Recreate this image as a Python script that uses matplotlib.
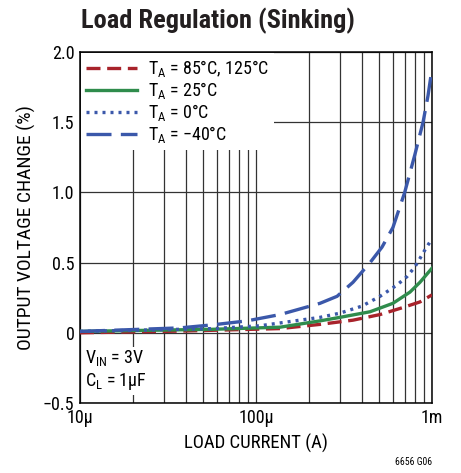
import matplotlib
matplotlib.use('Agg')
import matplotlib.pyplot as plt
from matplotlib.ticker import FixedLocator, NullFormatter

FONT = 'Roboto Condensed'
plt.rcParams['font.family'] = [FONT, 'Liberation Sans Narrow', 'DejaVu Sans']
plt.rcParams['mathtext.fontset'] = 'custom'
plt.rcParams['mathtext.rm'] = FONT

# load current (A) and output voltage change (%)
i_m40 = [10e-6, 37e-6, 57e-6, 89e-6, 137e-6, 231e-6, 289e-6, 356e-6, 445e-6,
         520e-6, 600e-6, 700e-6, 800e-6, 890e-6, 950e-6, 1e-3]
v_m40 = [0.01, 0.035, 0.057, 0.085, 0.13, 0.21, 0.26, 0.36, 0.50,
         0.61, 0.75, 1.00, 1.27, 1.50, 1.69, 1.88]

i_0 = [10e-6, 57e-6, 105e-6, 156e-6, 231e-6, 300e-6, 400e-6, 507e-6, 632e-6,
       721e-6, 800e-6, 855e-6, 912e-6, 1e-3]
v_0 = [0.01, 0.03, 0.05, 0.08, 0.11, 0.14, 0.19, 0.26, 0.34,
       0.40, 0.47, 0.53, 0.59, 0.67]

i_25 = [10e-6, 57e-6, 137e-6, 231e-6, 300e-6, 445e-6, 600e-6, 750e-6, 855e-6, 1e-3]
v_25 = [0.01, 0.025, 0.04, 0.085, 0.11, 0.15, 0.21, 0.29, 0.36, 0.46]

i_85 = [10e-6, 37e-6, 137e-6, 231e-6, 356e-6, 507e-6, 684e-6, 855e-6, 1e-3]
v_85 = [0.0, 0.012, 0.03, 0.06, 0.09, 0.13, 0.18, 0.22, 0.27]

x_ticks = [10e-6, 100e-6, 1e-3]
x_labels = ['10µ', '100µ', '1m']
y_ticks = [-0.5, 0, 0.5, 1.0, 1.5, 2.0]
y_labels = ['−0.5', '0', '0.5', '1.0', '1.5', '2.0']

fig = plt.figure(figsize=(4.61, 4.73), dpi=100)
ax = fig.add_axes([0.1735, 0.148, 0.7635, 0.742])

ax.plot(i_85, v_85, color='#a8232b', lw=2.4, ls=(0, (4.2, 2.0)), label=r'T$_\mathregular{A}$ = 85°C, 125°C', zorder=3)
ax.plot(i_25, v_25, color='#2f8c4c', lw=2.4, ls='-', label=r'T$_\mathregular{A}$ = 25°C', zorder=3)
ax.plot(i_0, v_0, color='#3b58aa', lw=2.4, ls=(0, (0.9, 1.5)), label=r'T$_\mathregular{A}$ = 0°C', zorder=3)
ax.plot(i_m40, v_m40, color='#3b58aa', lw=2.4, ls=(0, (7.5, 2.8)), label=r'T$_\mathregular{A}$ = −40°C', zorder=3)

ax.set_xscale('log')
ax.set_xlim(10e-6, 1e-3)
ax.set_ylim(-0.5, 2.0)
ax.set_xticks(x_ticks)
ax.set_xticklabels(x_labels)
ax.xaxis.set_minor_locator(FixedLocator([m * d for d in (1e-5, 1e-4) for m in range(2, 10)]))
ax.xaxis.set_minor_formatter(NullFormatter())
ax.set_yticks(y_ticks)
ax.set_yticklabels(y_labels)
ax.tick_params(which='both', length=0, labelsize=13, pad=4)
ax.grid(True, which='both', axis='x', color='#333333', lw=0.9)
ax.grid(True, which='major', axis='y', color='#333333', lw=0.9)
for s in ax.spines.values():
    s.set_linewidth(1.1)

ax.set_xlabel('LOAD CURRENT (A)', fontsize=13.5, labelpad=5)
ax.set_ylabel('OUTPUT VOLTAGE CHANGE (%)', fontsize=14, labelpad=5)

leg = ax.legend(loc='upper left', fontsize=13, frameon=True, fancybox=False,
                handlelength=2.8, handletextpad=0.6, labelspacing=0.05,
                borderpad=0.3, borderaxespad=0.05)
leg.get_frame().set_edgecolor('none')
leg.get_frame().set_facecolor('white')
leg.get_frame().set_alpha(1)
leg.set_zorder(5)

ax.text(0.015, 0.03, 'V$_\\mathregular{IN}$ = 3V\nC$_\\mathregular{L}$ = 1µF', transform=ax.transAxes,
        fontsize=13, ha='left', va='bottom', linespacing=1.2,
        bbox=dict(facecolor='white', edgecolor='none', pad=2), zorder=5)

fig.text(0.176, 0.955, 'Load Regulation (Sinking)', fontsize=19, fontweight='bold',
         ha='left', va='center', color='#231f20')
fig.text(0.937, 0.012, '6656 G06', fontsize=7, ha='right', va='bottom')

fig.savefig('out.png', dpi=100)
